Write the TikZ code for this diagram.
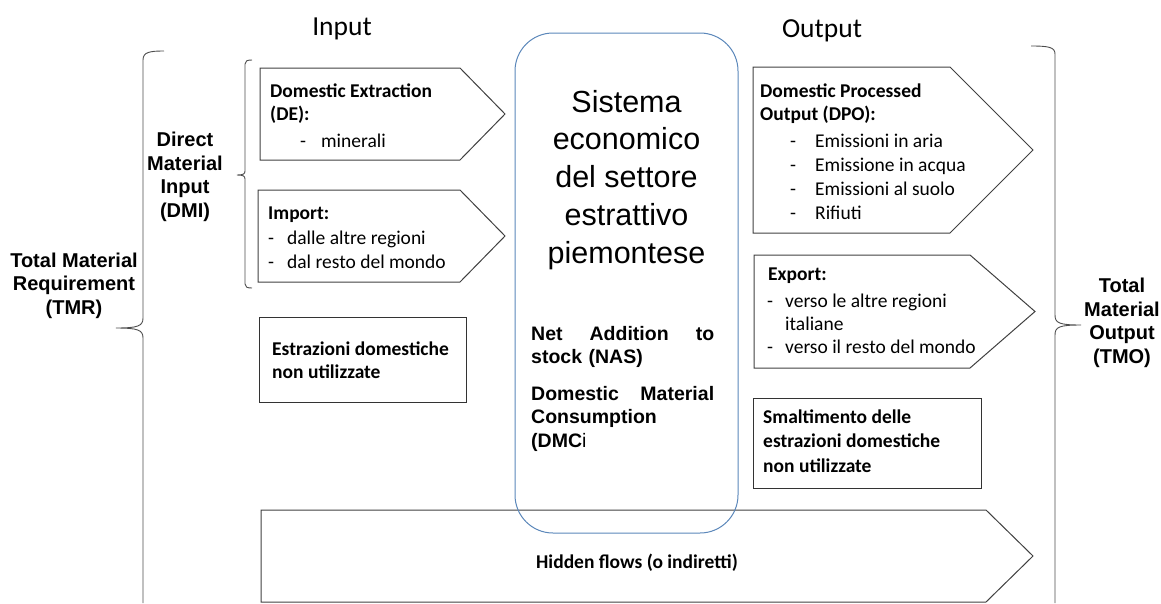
\documentclass[tikz,border=0pt]{standalone}
\usepackage{fontspec}
\setmainfont{Carlito}
\newfontfamily\arialfont{Liberation Sans}
\definecolor{bordoblu}{HTML}{5B87BA}
\tikzset{
  freccia/.style={draw=black!75, line width=1pt},
  blocco/.style={draw=black!80, line width=1pt},
  graffa/.style={draw=black!70, line width=0.9pt},
  contenitore/.style={draw=bordoblu, line width=1pt, rounded corners=38pt, inner sep=0pt},
  testo/.style={anchor=base west, align=left, inner sep=0pt, font=\fontsize{19.5}{22.5}\selectfont},
  sigla/.style={anchor=base, align=center, inner sep=0pt, font=\arialfont\bfseries\fontsize{20}{23.5}\selectfont},
  titolo/.style={anchor=base, inner sep=0pt, font=\fontsize{27.5}{30}\selectfont},
  bilancio/.style={anchor=base west, text width=183pt, align=left, inner sep=0pt, font=\arialfont\bfseries\fontsize{19.5}{23.5}\selectfont},
}

\begin{document}
\begin{tikzpicture}[x=1pt, y=-1pt]
  \useasboundingbox (0,0) rectangle (1161,603);
  \foreach \xa/\ya/\xb/\xc/\yb in {260/68/460/505/160, 258/190/460/505/282, 753/67/950/1033/233, 754/255/970/1035/368, 261/510/986/1033/602}
    \draw[freccia] (\xa,\ya) -- (\xb,\ya) -- (\xc,{(\ya+\yb)/2}) -- (\xb,\yb) -- (\xa,\yb) -- cycle;
  \draw[blocco] (259,317) rectangle (466,402);
  \draw[blocco] (753,398) rectangle (981,488);
  \node[contenitore, minimum width=223pt, minimum height=500pt] (sistema) at (626.5,283) {};

  \node[titolo] (input) at (342,35) {Input};
  \node[titolo] (output) at (822,37) {Output};

  \draw[graffa] (164,51) .. controls (150,51) and (143,52) .. (143,60) -- (143,318) .. controls (143,326) and (138,328) .. (116,328) .. controls (138,328) and (143,330) .. (143,338) -- (143,603);
  \draw[graffa] (252,60) .. controls (247,60) and (245,61) .. (245,64) -- (245,171) .. controls (245,174) and (243,175) .. (237,175) .. controls (243,175) and (245,176) .. (245,179) -- (245,284) .. controls (245,287) and (247,288) .. (252,288);
  \draw[graffa] (1031,46) .. controls (1048,46) and (1055,47) .. (1055,54) -- (1055,315) .. controls (1055,323) and (1059,325) .. (1081,325) .. controls (1059,325) and (1055,327) .. (1055,335) -- (1055,603);

  \node[sigla] (tmr) at (74,314) {Total Material\\Requirement\\(TMR)};
  \node[sigla] (dmi) at (185,217) {Direct\\Material\\Input\\(DMI)};
  \node[sigla] (tmo) at (1122,363) {Total\\Material\\Output\\(TMO)};

  \node[testo] (de) at (270,147) {\textbf{Domestic Extraction}\\\textbf{(DE):}\\[4.5pt]\hspace*{30pt}-\hspace{15pt}minerali};
  \node[testo] (import) at (268,268) {\textbf{Import:}\\[2.5pt]-\hspace{13pt}dalle altre regioni\\[1.5pt]-\hspace{13pt}dal resto del mondo};
  \node[testo, font=\bfseries\fontsize{19.5}{23}\selectfont] (inutil) at (272,378) {Estrazioni domestiche\\non utilizzate};

  \node[anchor=base, align=center, inner sep=0pt, font=\arialfont\fontsize{30.5}{37.7}\selectfont] (nome) at (626.5,263) {Sistema\\economico\\del settore\\estrattivo\\piemontese};
  \node[bilancio] (nas) at (531,340) {Net\hfill Addition\hfill to\\stock (NAS)};
  \node[bilancio] (dmc) at (531,400) {Domestic\hfill Material\\Consumption\\(DMC{\mdseries i}};

  \node[testo] (dpo) at (760,219) {\textbf{Domestic Processed}\\\textbf{Output (DPO):}\\[4.5pt]\hspace*{30pt}-\hspace{19pt}Emissioni in aria\\[1.5pt]\hspace*{30pt}-\hspace{19pt}Emissione in acqua\\[1.5pt]\hspace*{30pt}-\hspace{19pt}Emissioni al suolo\\[1.5pt]\hspace*{30pt}-\hspace{19pt}Rifiuti};
  \node[testo] (export) at (768,353) {\textbf{Export:}\\[4.5pt]\hspace*{-1pt}-\hspace{12pt}verso le altre regioni\\[0.5pt]\hspace*{17pt}italiane\\[0.5pt]\hspace*{-1pt}-\hspace{12pt}verso il resto del mondo};
  \node[testo, font=\bfseries\fontsize{19.5}{24.5}\selectfont] (smalt) at (763,472) {Smaltimento delle\\estrazioni domestiche\\non utilizzate};

  \node[anchor=base, inner sep=0pt, font=\bfseries\fontsize{19.5}{24}\selectfont] (nascosti) at (637,568) {Hidden flows (o indiretti)};
\end{tikzpicture}
\end{document}
